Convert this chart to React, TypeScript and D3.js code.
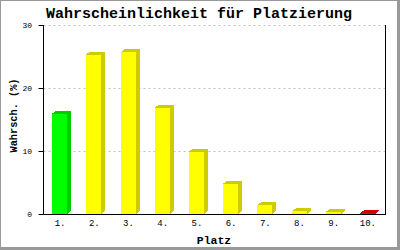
import React from "react";
import * as d3 from "d3";

const places = ["1.", "2.", "3.", "4.", "5.", "6.", "7.", "8.", "9.", "10."];
const probabilities = [15.9, 25.3, 25.7, 16.9, 9.9, 4.8, 1.4, 0.45, 0.35, 0.12];
const yTicks = [0, 10, 20, 30];
const frontColors = ["#00ff00", "#ffff00", "#ffff00", "#ffff00", "#ffff00", "#ffff00", "#ffff00", "#ffff00", "#ffff00", "#ff0000"];
const shadeColors = ["#00cc00", "#cccc00", "#cccc00", "#cccc00", "#cccc00", "#cccc00", "#cccc00", "#cccc00", "#cccc00", "#cc0000"];

const W = 400;
const H = 250;
const left = 43.5;
const right = 385.5;
const top = 25.5;
const bottom = 214.5;
const barW = 15;
const dx = 4;
const dy = 3;
const mono = "'Liberation Mono', 'DejaVu Sans Mono', monospace";

export default function App() {
  const x = d3.scaleBand<string>().domain(places).range([left, right]);
  const y = d3.scaleLinear().domain([0, 30]).range([bottom, top]);

  return (
    <div style={{ position: "fixed", left: 0, top: 0 }}>
      <svg width={W} height={H} style={{ display: "block" }}>
        <rect x={0} y={0} width={W} height={H} fill="#999999" />
        <rect x={1} y={1} width={W - 4} height={H - 4} fill="#ffffff" />

        <text x={199} y={18} textAnchor="middle" fontFamily={mono} fontWeight="bold" fontSize={15} textLength={306} lengthAdjust="spacingAndGlyphs">
          Wahrscheinlichkeit für Platzierung
        </text>

        {yTicks.filter((t) => t > 0).map((t) => (
          <line key={"g" + t} x1={left} x2={right} y1={y(t)} y2={y(t)} stroke="#c0c0c0" strokeDasharray="2,3" />
        ))}

        {probabilities.map((v, i) => {
          const cx = x(places[i])! + x.bandwidth() / 2;
          const x0 = Math.round(cx - 8.5);
          const x1 = x0 + barW;
          const yt = y(v) - 0.5;
          const yb = y(0) - 0.5;
          return (
            <g key={places[i]} shapeRendering="crispEdges">
              <polygon points={`${x1},${yt} ${x1 + dx},${yt - dy} ${x1 + dx},${yb - dy} ${x1},${yb}`} fill={shadeColors[i]} />
              <polygon points={`${x0},${yt} ${x0 + dx},${yt - dy} ${x1 + dx},${yt - dy} ${x1},${yt}`} fill={shadeColors[i]} />
              <rect x={x0} y={yt} width={barW} height={yb - yt} fill={frontColors[i]} />
            </g>
          );
        })}

        <line x1={left} x2={left} y1={top - 0.5} y2={bottom + 0.5} stroke="#000" />
        <line x1={right} x2={right} y1={top - 0.5} y2={bottom + 0.5} stroke="#000" />
        <line x1={left} x2={right} y1={bottom} y2={bottom} stroke="#000" />

        {yTicks.map((t) => (
          <g key={"t" + t}>
            <line x1={left - 5} x2={left} y1={y(t)} y2={y(t)} stroke="#000" />
            <text x={32} y={y(t) + 2.5} textAnchor="end" fontFamily={mono} fontSize={8}>
              {t}
            </text>
          </g>
        ))}

        {places.map((p) => (
          <text key={"l" + p} x={x(p)! + x.bandwidth() / 2 - 0.5} y={226} textAnchor="middle" fontFamily={mono} fontSize={9}>
            {p}
          </text>
        ))}

        <text x={214} y={243.5} textAnchor="middle" fontFamily={mono} fontWeight="bold" fontSize={11.5}>
          Platz
        </text>
        <text transform="translate(17,115.5) rotate(-90)" textAnchor="middle" fontFamily={mono} fontWeight="bold" fontSize={11.5} textLength={74} lengthAdjust="spacingAndGlyphs">
          Wahrsch. (%)
        </text>
      </svg>
    </div>
  );
}
